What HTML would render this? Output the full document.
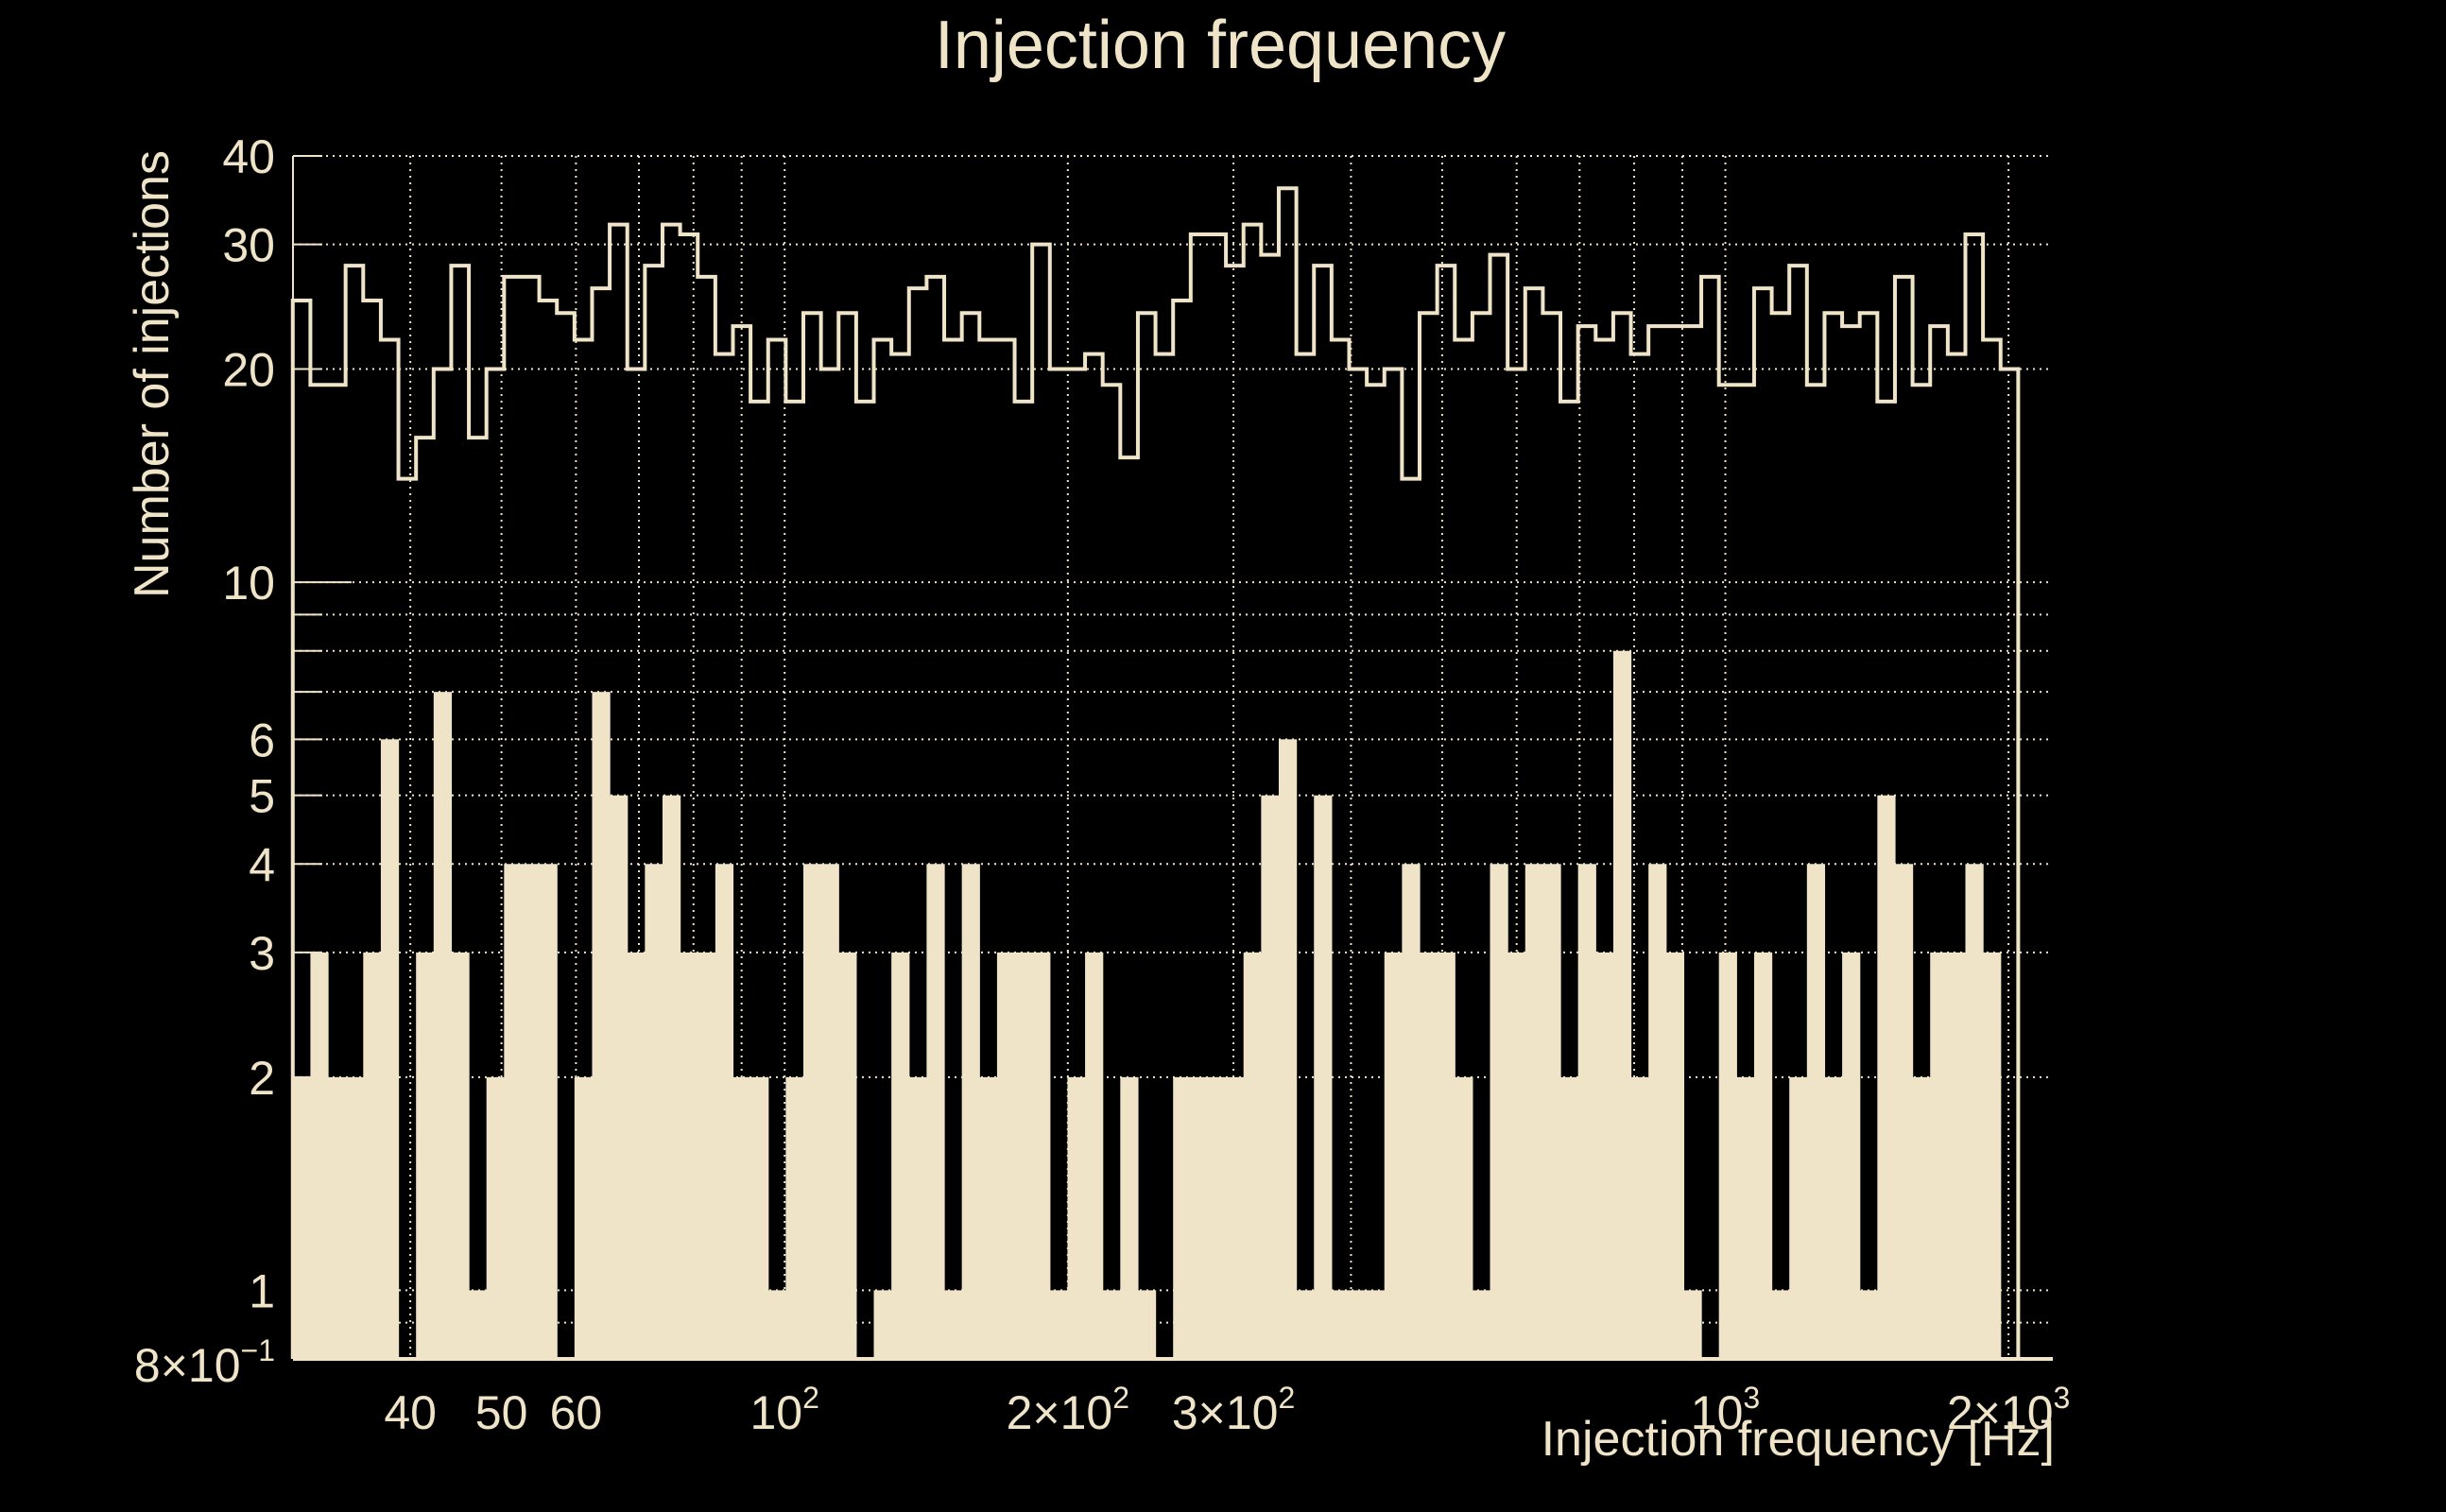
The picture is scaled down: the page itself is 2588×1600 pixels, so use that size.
<!DOCTYPE html>
<html><head><meta charset="utf-8"><style>
html,body{margin:0;padding:0;background:#000;}
svg{display:block;}
text{font-family:"Liberation Sans",sans-serif;fill:#efe4c7;}
</style></head><body>
<svg id="chart" width="2588" height="1600" viewBox="0 0 2588 1600" xmlns="http://www.w3.org/2000/svg">
<rect width="2588" height="1600" fill="#000"/>
<text x="1291" y="72" font-size="72" text-anchor="middle">Injection frequency</text>
<text transform="translate(178,396) rotate(-90)" font-size="52" text-anchor="middle">Number of injections</text>
<text x="2174" y="1540" font-size="52" text-anchor="end">Injection frequency [Hz]</text>
<g id="grid"></g>
<g id="bars"></g>
<g id="step"></g>
<g id="axes"></g>
</svg>
<script>
// ---- data ----
const binStartHz = 30;
const binEndHz = 2048;
const stepCounts = [25,19,19,28,25,22,14,16,20,28,16,20,27,27,25,24,22,26,32,20,28,32,31,27,21,
 23,18,22,18,24,20,24,18,22,21,26,27,22,24,22,22,18,30,20,20,21,19,15,24,21,
 25,31,31,28,32,29,36,21,28,22,20,19,20,14,24,28,22,24,29,20,26,24,18,23,22,
 24,21,23,23,23,27,19,19,26,24,28,19,24,23,24,18,27,19,23,21,31,22,20];
const barCounts = [2,3,2,2,3,6,0,3,7,3,1,2,4,4,4,0,2,7,5,3,4,5,3,3,4,
 2,2,1,2,4,4,3,0,1,3,2,4,1,4,2,3,3,3,1,2,3,1,2,1,0,
 2,2,2,2,3,5,6,1,5,1,1,1,3,4,3,3,2,1,4,3,4,4,2,4,3,
 8,2,4,3,1,0,3,2,3,1,2,4,2,3,1,5,4,2,3,3,4,3,0];
const yMajorTicks = [1,10];
const yTickLabels = [[40,"40"],[30,"30"],[20,"20"],[10,"10"],[6,"6"],[5,"5"],[4,"4"],[3,"3"],[2,"2"],[1,"1"]];
const yGridValues = [0.9,1,2,3,4,5,6,7,8,9,10,20,30,40];
const xGridValues = [40,50,60,70,80,90,100,200,300,400,500,600,700,800,900,1000,2000];
const xTickLabels = [[40,"40",""],[50,"50",""],[60,"60",""],[100,"10","2"],[200,"2×10","2"],[300,"3×10","2"],[1000,"10","3"],[2000,"2×10","3"]];

// ---- layout ----
const X0=310, X1=2172, Y0=165, Y1=1438;
const C="#efe4c7";
const yMin=0.8, yMax=40;
function xs(f){ return 830.2 + (Math.log10(f)-2)*995.3; }
function ys(v){ return Y0 + (Math.log10(yMax)-Math.log10(v))/(Math.log10(yMax)-Math.log10(yMin))*(Y1-Y0); }
const NS="http://www.w3.org/2000/svg";
function mk(tag, parent, attrs){ const e=document.createElementNS(NS,tag); for(const k in attrs) e.setAttribute(k,attrs[k]); parent.appendChild(e); return e; }
const nb = barCounts.length;
const l0=Math.log10(binStartHz), l1=Math.log10(binEndHz);
function edge(i){ return xs(Math.pow(10, l0 + i*(l1-l0)/nb)); }

const grid=document.getElementById('grid');
yGridValues.forEach(v=>{
  const l=mk('line',grid,{x1:X0,x2:X1,y1:ys(v),y2:ys(v),stroke:C,'stroke-width':2,'stroke-dasharray':'2,5'});
  
  
});
xGridValues.forEach(v=>{
  const l=mk('line',grid,{x1:xs(v),x2:xs(v),y1:Y0,y2:Y1,stroke:C,'stroke-width':2,'stroke-dasharray':'2,5'});
  
  
});

const bars=document.getElementById('bars');
barCounts.forEach((v,i)=>{
  if(v<=0) return;
  const xa=edge(i), xb=edge(i+1), y=ys(v);
  const r=mk('rect',bars,{x:xa,y:y,width:xb-xa+0.6,height:Y1-y,fill:C});
  
  
});

const step=document.getElementById('step');
let d='M'+edge(0)+','+Y1;
stepCounts.forEach((v,i)=>{ d+=' L'+edge(i)+','+ys(v)+' L'+edge(i+1)+','+ys(v); });
d+=' L'+edge(stepCounts.length)+','+Y1;
const p=mk('path',step,{d:d,fill:'none',stroke:C,'stroke-width':4,'stroke-linejoin':'miter'});



const axes=document.getElementById('axes');
const ya=mk('line',axes,{x1:X0,x2:X0,y1:Y0,y2:Y1,stroke:C,'stroke-width':2});


const xa=mk('line',axes,{x1:X0,x2:X1,y1:Y1,y2:Y1,stroke:C,'stroke-width':4});


yGridValues.forEach(v=>{
  const len = yMajorTicks.indexOf(v)>=0 ? 62 : 31;
  const t=mk('line',axes,{x1:X0,x2:X0+len,y1:ys(v),y2:ys(v),stroke:C,'stroke-width':2});
  
  
});
yTickLabels.forEach(([v,s])=>{
  const t=mk('text',axes,{x:291,y:ys(v)+18,'font-size':50,'text-anchor':'end'});
  t.textContent=s;
  
  
});
{
  const t=mk('text',axes,{x:291,y:Y1+24,'font-size':50,'text-anchor':'end'});
  
  
  t.appendChild(document.createTextNode('8×10'));
  const s=mk('tspan',t,{'font-size':32,dy:-22}); s.textContent='−1';
}
xTickLabels.forEach(([v,s,sup])=>{
  const t=mk('text',axes,{x:xs(v),y:1512,'font-size':50,'text-anchor':'middle'});
  
  
  t.appendChild(document.createTextNode(s));
  if(sup){ const sp=mk('tspan',t,{'font-size':32,dy:-22}); sp.textContent=sup; }
});
</script>
</body></html>
